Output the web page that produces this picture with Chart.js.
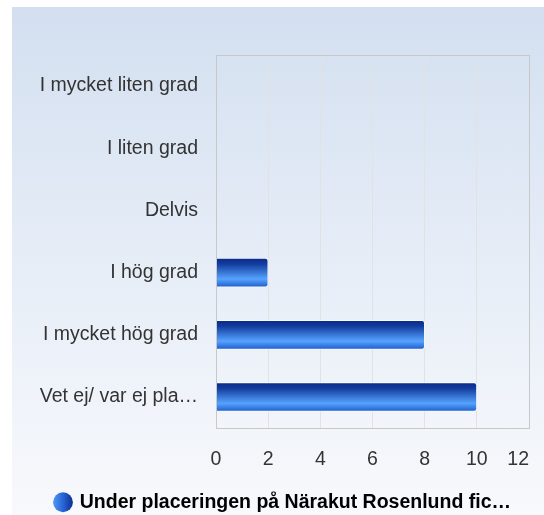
<!DOCTYPE html>
<html>
<head>
<meta charset="utf-8">
<script src="https://cdn.jsdelivr.net/npm/chart.js@4.4.0/dist/chart.umd.min.js"></script>
<style>
  body { margin: 0; background: #fff; }
  #wrap { position: relative; width: 544px; height: 515px; }
  #panel {
    position: absolute; left: 12px; top: 7px; right: 0; bottom: 0;
    background: linear-gradient(to bottom, #d3dff0 0%, #e6edf7 50%, #f8f9fc 100%);
  }
  canvas { position: absolute; left: 0; top: 0; }
</style>
</head>
<body>
<div id="wrap">
  <div id="panel"></div>
  <canvas id="chart" width="544" height="515"></canvas>
</div>
<script>
// Categories and values
const categories = [
  "I mycket liten grad",
  "I liten grad",
  "Delvis",
  "I hög grad",
  "I mycket hög grad",
  "Vet ej/ var ej pla…"
];
const counts = [0, 0, 0, 2, 8, 10];
const seriesName = "Under placeringen på Närakut Rosenlund fic…";

const textColor = "#333333";
const font = "'Liberation Sans', Arial, sans-serif";

// vertical gradient for each bar, built from the y scale
function barGradient(context) {
  const chart = context.chart;
  const yScale = chart.scales && chart.scales.y;
  if (!chart.chartArea || !yScale) return "#2f6fdc";
  const yc = yScale.getPixelForValue(context.dataIndex);
  const g = chart.ctx.createLinearGradient(0, yc - 14.5, 0, yc + 14.5);
  g.addColorStop(0, "#0a2a88");
  g.addColorStop(0.2, "#123c9e");
  g.addColorStop(0.72, "#56a3ff");
  g.addColorStop(1, "#1d5ccb");
  return g;
}

// legend dot: light on the left, dark on the right
function legendGradient(chart) {
  const g = chart.ctx.createLinearGradient(53, 0, 73, 0);
  g.addColorStop(0, "#4f98f6");
  g.addColorStop(0.5, "#2a64d6");
  g.addColorStop(1, "#0c2f8e");
  return g;
}

// box around the plot area (top + right edges)
const plotBox = {
  id: "plotBox",
  afterDatasetsDraw(chart) {
    const a = chart.chartArea;
    const ctx = chart.ctx;
    ctx.save();
    ctx.strokeStyle = "#c8c8c8";
    ctx.lineWidth = 1;
    ctx.strokeRect(Math.round(a.left) + 0.5, Math.round(a.top) + 0.5,
      Math.round(a.right - a.left), Math.round(a.bottom - a.top));
    ctx.restore();
  }
};

const config = {
  type: "bar",
  data: {
    labels: categories,
    datasets: [{
      label: seriesName,
      data: counts,
      backgroundColor: barGradient,
      borderColor: "rgba(255,255,255,0.7)",
      borderWidth: 1,
      borderSkipped: "start",
      borderRadius: 3,
      barThickness: 29
    }]
  },
  options: {
    indexAxis: "y",
    responsive: false,
    animation: false,
    layout: { padding: { left: 38, right: 15, top: 55, bottom: -7 } },
    plugins: {
      tooltip: { enabled: false },
      legend: {
        position: "bottom",
        labels: {
          color: textColor,
          font: { family: font, size: 19.5, weight: "bold" },
          usePointStyle: true,
          pointStyle: "circle",
          boxWidth: 14,
          boxHeight: 14,
          padding: 1,
          generateLabels(chart) {
            const fill = legendGradient(chart);
            return [{
              text: seriesName,
              fillStyle: fill,
              strokeStyle: fill,
              lineWidth: 0,
              pointStyle: "circle",
              datasetIndex: 0
            }];
          }
        }
      }
    },
    scales: {
      x: {
        min: 0,
        max: 12,
        ticks: {
          stepSize: 2,
          color: textColor,
          font: { family: font, size: 19.5 },
          padding: 20,
          maxRotation: 0,
          // last label sits inside the plot edge, like the original
          callback: (v) => v === 12 ? "12\u00a0\u00a0\u00a0\u00a0" : String(v)
        },
        grid: {
          color: (c) => (c.tick && c.tick.value === 12) ? "#c8c8c8" : "#e2e2e2",
          drawTicks: false
        },
        border: { color: "#c8c8c8" },
        afterFit(scale) { scale.paddingLeft = 0; scale.paddingRight = 0; }
      },
      y: {
        ticks: {
          color: textColor,
          font: { family: font, size: 19.5 },
          padding: 18
        },
        grid: { display: false, drawTicks: false },
        border: { color: "#c8c8c8" },
        afterFit(scale) { scale.width = 178; }
      }
    }
  },
  plugins: [plotBox]
};

const barChart = new Chart(document.getElementById("chart"), config);
</script>
</body>
</html>
